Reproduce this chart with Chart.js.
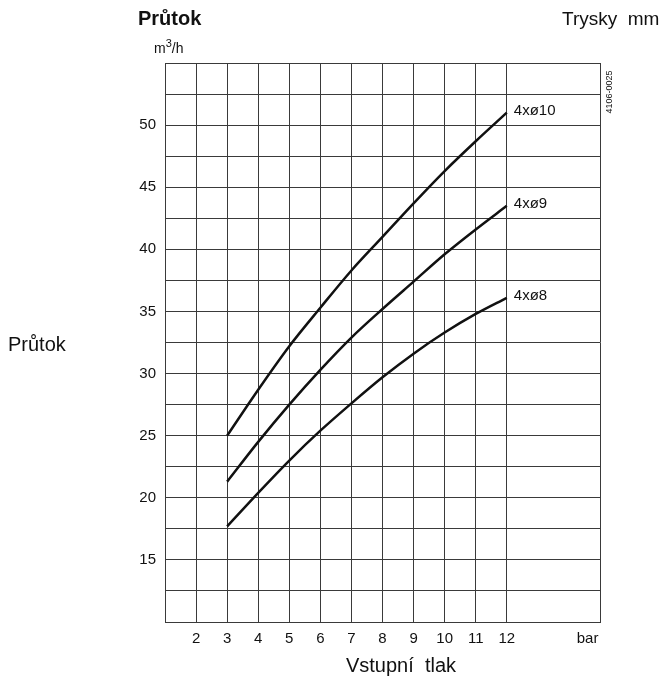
<!DOCTYPE html>
<html>
<head>
<meta charset="utf-8">
<script src="https://cdn.jsdelivr.net/npm/chart.js@4.4.1/dist/chart.umd.min.js"></script>
<style>
  html, body { margin: 0; padding: 0; background: #fff; }
  #wrap { width: 667px; height: 682px; position: relative; }
</style>
</head>
<body>
<div id="wrap"><canvas id="c" width="667" height="682"></canvas></div>
<script>
// Průtok vs. vstupní tlak pro trysky 4xø8 / 4xø9 / 4xø10
var pressures = [3, 4, 5, 6, 7, 8, 9, 10, 11, 12];
var flow10 = [25.0, 28.7, 32.2, 35.3, 38.3, 41.0, 43.7, 46.3, 48.7, 51.0];
var flow9  = [21.3, 24.5, 27.5, 30.3, 32.9, 35.2, 37.4, 39.6, 41.6, 43.5];
var flow8  = [17.7, 20.4, 23.0, 25.4, 27.6, 29.7, 31.6, 33.3, 34.8, 36.1];
var seriesNames = ["4xø10", "4xø9", "4xø8"];
var xTicks = [1, 2, 3, 4, 5, 6, 7, 8, 9, 10, 11, 12, 14.6, 15];
var yLabelled = [15, 20, 25, 30, 35, 40, 45, 50];

var FONT = "'Liberation Sans', Arial, sans-serif";
var INK = "#111";
var GRID = "#3a3a3a";

function pts(ys) {
  return pressures.map(function (x, i) { return { x: x, y: ys[i] }; });
}

var labelsPlugin = {
  id: "labels",
  afterDatasetsDraw: function (chart) {
    var ctx = chart.ctx;
    var xs = chart.scales.x, ys = chart.scales.y;
    ctx.save();
    ctx.fillStyle = INK;
    // popisky křivek
    ctx.font = "15px " + FONT;
    ctx.textAlign = "left";
    ctx.textBaseline = "middle";
    chart.data.datasets.forEach(function (ds) {
      var last = ds.data[ds.data.length - 1];
      ctx.fillText(ds.label, xs.getPixelForValue(last.x) + 7, ys.getPixelForValue(last.y) - 2);
    });
    // nadpisy
    ctx.textBaseline = "alphabetic";
    ctx.font = "bold 20px " + FONT;
    ctx.fillText("Průtok", 138, 25);
    ctx.font = "14px " + FONT;
    ctx.fillText("m", 154, 53);
    var mw = ctx.measureText("m").width;
    ctx.font = "11px " + FONT;
    ctx.fillText("3", 154 + mw, 47);
    var tw = ctx.measureText("3").width;
    ctx.font = "14px " + FONT;
    ctx.fillText("/h", 154 + mw + tw, 53);
    ctx.font = "19px " + FONT;
    ctx.fillText("Trysky  mm", 562, 25);
    ctx.font = "20px " + FONT;
    ctx.fillText("Průtok", 8, 351);
    ctx.textAlign = "center";
    ctx.fillText("Vstupní  tlak", 401, 672);
    // kód výkresu
    ctx.save();
    ctx.translate(610, 92);
    ctx.rotate(-Math.PI / 2);
    ctx.font = "9px " + FONT;
    ctx.textAlign = "center";
    ctx.textBaseline = "middle";
    ctx.fillText("4106-0025", 0, 0);
    ctx.restore();
    ctx.restore();
  }
};

function lineDs(label, ys) {
  return {
    label: label,
    data: pts(ys),
    borderColor: INK,
    borderWidth: 2.5,
    pointRadius: 0,
    fill: false,
    cubicInterpolationMode: "monotone"
  };
}

new Chart(document.getElementById("c"), {
  type: "line",
  data: {
    datasets: [
      lineDs(seriesNames[0], flow10),
      lineDs(seriesNames[1], flow9),
      lineDs(seriesNames[2], flow8)
    ]
  },
  options: {
    responsive: false,
    animation: false,
    layout: { padding: { left: 0, right: 67, top: 63, bottom: 0 } },
    plugins: { legend: { display: false }, tooltip: { enabled: false } },
    scales: {
      x: {
        type: "linear",
        min: 1, max: 15,
        afterBuildTicks: function (s) { s.ticks = xTicks.map(function (v) { return { value: v }; }); },
        afterFit: function (s) { s.height = 60; },
        grid: {
          drawTicks: false,
          lineWidth: 1,
          color: function (c) { return c.tick && c.tick.value === 14.6 ? "rgba(0,0,0,0)" : GRID; }
        },
        border: { color: GRID, width: 1 },
        ticks: {
          autoSkip: false,
          maxRotation: 0,
          padding: 8,
          color: INK,
          font: { family: FONT, size: 15 },
          callback: function (v) {
            if (v === 14.6) return "bar";
            if (v === 1 || v === 15) return "";
            return String(v);
          }
        }
      },
      y: {
        type: "linear",
        min: 10, max: 55,
        ticks: {
          stepSize: 2.5,
          autoSkip: false,
          padding: 9,
          color: INK,
          font: { family: FONT, size: 15 },
          callback: function (v) { return yLabelled.indexOf(v) >= 0 ? String(v) : ""; }
        },
        afterFit: function (s) { s.width = 165; },
        grid: { drawTicks: false, color: GRID, lineWidth: 1 },
        border: { color: GRID, width: 1 }
      }
    }
  },
  plugins: [labelsPlugin]
});
</script>
</body>
</html>
